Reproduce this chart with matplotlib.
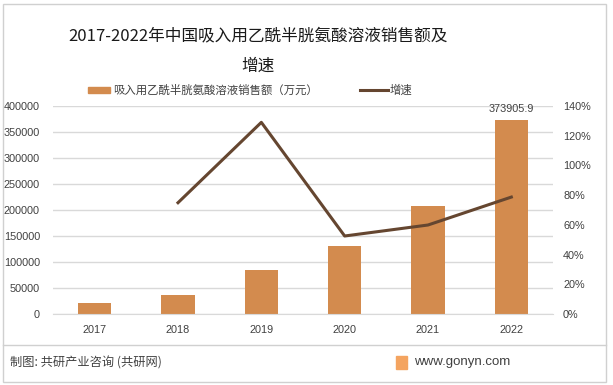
import matplotlib.pyplot as plt
from matplotlib.patches import Rectangle
from matplotlib.lines import Line2D
from matplotlib.ticker import FuncFormatter

plt.rcParams['font.family'] = ['Noto Sans CJK SC', 'DejaVu Sans']

# data
years = ['2017', '2018', '2019', '2020', '2021', '2022']
sales = [21000, 36500, 84600, 130800, 207700, 373905.9]   # 万元
growth = [None, 74.9, 129.0, 52.5, 59.9, 78.7]           # %

bar_label = '吸入用乙酰半胱氨酸溶液销售额（万元）'
line_label = '增速'
title = '2017-2022年中国吸入用乙酰半胱氨酸溶液销售额及\n增速'

bar_color = '#D38B4E'
line_color = '#654630'
text_color = '#404040'
num_font = ['Liberation Sans', 'DejaVu Sans']

fig = plt.figure(figsize=(6.13, 3.85), dpi=100)
W, H = 613, 385

ax = fig.add_axes([53 / W, 1 - 314 / H, 500 / W, 208 / H])
x = range(len(years))
ax.bar(x, sales, width=0.4, color=bar_color, zorder=2)
ax.set_ylim(0, 400000)
ax.set_xlim(-0.5, len(years) - 0.5)
ax.set_yticks(range(0, 400001, 50000))
ax.set_xticks(list(x))
ax.set_xticklabels(years)
ax.yaxis.grid(True, color='#D9D9D9', linewidth=1, zorder=0)
for s in ax.spines.values():
    s.set_visible(False)
ax.spines['bottom'].set_visible(True)
ax.spines['bottom'].set_color('#D9D9D9')
ax.tick_params(length=0, labelsize=7.8, colors=text_color)
ax.tick_params(axis='y', pad=9.4)
ax.tick_params(axis='x', pad=8)
for lab in ax.get_yticklabels() + ax.get_xticklabels():
    lab.set_family(num_font)

# label on the last bar
ax.text(len(years) - 1, sales[-1] + 10000, '373905.9', ha='center', va='bottom',
        fontsize=7.8, color=text_color, clip_on=False, family=num_font)

ax2 = ax.twinx()
gx = [i for i, g in zip(x, growth) if g is not None]
gy = [g for g in growth if g is not None]
ax2.plot(gx, gy, color=line_color, linewidth=2.2, zorder=3)
ax2.set_ylim(0, 140)
ax2.set_yticks(range(0, 141, 20))
ax2.yaxis.set_major_formatter(FuncFormatter(lambda v, p: f'{int(v)}%'))
for s in ax2.spines.values():
    s.set_visible(False)
ax2.tick_params(length=0, labelsize=7.8, colors=text_color, pad=7.2)
for lab in ax2.get_yticklabels():
    lab.set_family(num_font)

# title
fig.text(258 / W, 1 - 51 / H, title, ha='center', va='center', fontsize=12,
         color='#1a1a1a', linespacing=2.0)

# legend
fig.patches.append(Rectangle((88 / W, 1 - 93 / H), 22 / W, 6 / H,
                             transform=fig.transFigure, color=bar_color))
fig.text(113 / W, 1 - 90 / H, bar_label, ha='left', va='center', fontsize=8.2, color=text_color)
fig.lines.append(Line2D([360 / W, 388 / W], [1 - 90 / H, 1 - 90 / H],
                        transform=fig.transFigure, color=line_color, linewidth=2.2))
fig.text(390 / W, 1 - 90 / H, line_label, ha='left', va='center', fontsize=8.2, color=text_color)

# frame and footer
fig.patches.append(Rectangle((3 / W, 3 / H), 603 / W, 378 / H, transform=fig.transFigure,
                             fill=False, edgecolor='#D0D0D0', linewidth=1))
fig.lines.append(Line2D([3 / W, 606 / W], [1 - 345 / H, 1 - 345 / H],
                        transform=fig.transFigure, color='#D0D0D0', linewidth=1))
fig.text(10 / W, 1 - 363 / H, '制图: 共研产业咨询 (共研网)', ha='left', va='center',
         fontsize=8.8, color=text_color)
fig.patches.append(Rectangle((396 / W, 1 - 369 / H), 11 / W, 13 / H,
                             transform=fig.transFigure, color='#F4A460'))
fig.text(414 / W, 1 - 362 / H, 'www.gonyn.com', ha='left', va='center',
         fontsize=9.5, color=text_color, family=num_font)

fig.savefig('out.png', dpi=100)
